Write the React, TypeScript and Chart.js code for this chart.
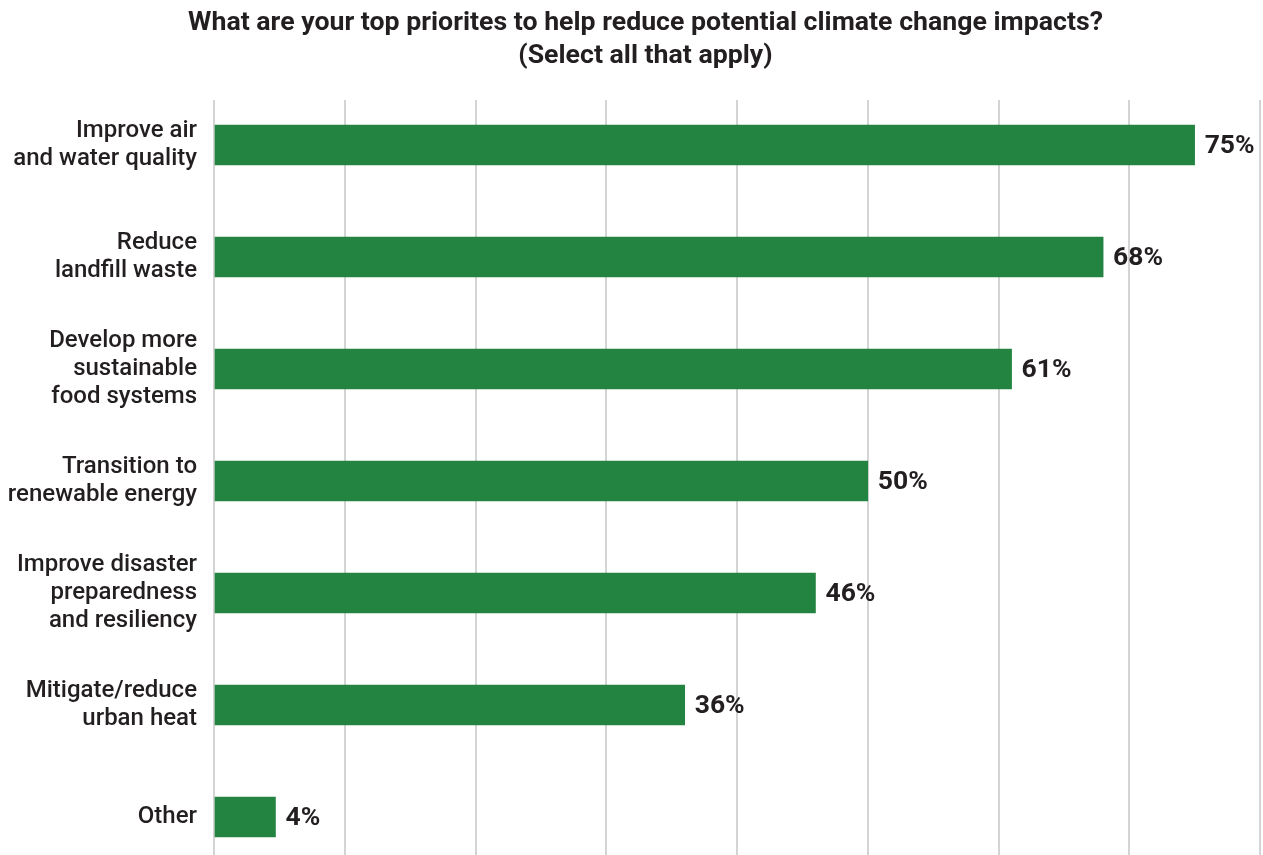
import React, { useEffect, useRef } from "react";
import { Chart, registerables } from "chart.js";

Chart.register(...registerables);

const categories: string[][] = [
  ["Improve air", "and water quality"],
  ["Reduce", "landfill waste"],
  ["Develop more", "sustainable", "food systems"],
  ["Transition to", "renewable energy"],
  ["Improve disaster", "preparedness", "and resiliency"],
  ["Mitigate/reduce", "urban heat"],
  ["Other"],
];
const values: number[] = [75, 68, 61, 50, 46, 36, 4.7];
const valueText: string[] = ["75%", "68%", "61%", "50%", "46%", "36%", "4%"];
const titleLines: string[] = [
  "What are your top priorites to help reduce potential climate change impacts?",
  "(Select all that apply)",
];

const FONT = "'Roboto', sans-serif";
const TEXT = "#231f20";
const GREEN = "#238340";

const titlePlugin = {
  id: "customTitle",
  afterDraw(chart: any) {
    const ctx = chart.ctx;
    ctx.save();
    ctx.font = `bold 26.7px ${FONT}`;
    ctx.fillStyle = TEXT;
    ctx.textAlign = "center";
    ctx.textBaseline = "middle";
    titleLines.forEach((line, i) => {
      ctx.fillText(line, 645.5, 23 + i * 33);
    });
    ctx.restore();
  },
};

const valueLabelPlugin = {
  id: "valueLabels",
  afterDatasetsDraw(chart: any) {
    const ctx = chart.ctx;
    const meta = chart.getDatasetMeta(0);
    ctx.save();
    ctx.font = `bold 26.5px ${FONT}`;
    ctx.fillStyle = TEXT;
    ctx.textAlign = "left";
    ctx.textBaseline = "middle";
    meta.data.forEach((bar: any, i: number) => {
      ctx.fillText(valueText[i], bar.x + 10, bar.y + 1);
    });
    ctx.restore();
  },
};

export default function App() {
  const ref = useRef<HTMLCanvasElement | null>(null);
  useEffect(() => {
    if (!ref.current) return;
    const chart = new Chart(ref.current, {
      type: "bar",
      data: {
        datasets: [
          {
            data: values.map((v, i) => ({ x: v, y: i })),
            backgroundColor: GREEN,
            barThickness: 40,
            borderWidth: 0,
          },
        ],
      },
      options: {
        indexAxis: "y",
        animation: false,
        responsive: true,
        maintainAspectRatio: false,
        layout: { padding: { left: 0, right: 3, top: 100, bottom: 0 } },
        plugins: {
          legend: { display: false },
          tooltip: { enabled: false },
          title: { display: false },
        },
        scales: {
          x: {
            type: "linear",
            min: 0,
            max: 80,
            ticks: { display: false, stepSize: 10 },
            grid: { color: "#d4d4d4", lineWidth: 2, drawTicks: false },
            border: { display: false },
            afterFit(scale: any) {
              scale.height = 0;
            },
          },
          y: {
            type: "linear",
            reverse: true,
            offset: false,
            min: -0.4018,
            max: 6.339,
            grid: { display: false, drawTicks: false },
            border: { display: false },
            afterBuildTicks(scale: any) {
              scale.ticks = categories.map((_, i) => ({ value: i }));
            },
            ticks: {
              autoSkip: false,
              padding: 17,
              color: TEXT,
              font: { family: FONT, size: 24, weight: "500", lineHeight: 28 / 24 },
              callback: (v: any) => categories[Math.round(Number(v))] ?? "",
            },
            afterFit(scale: any) {
              scale.width = 214;
              scale.paddingTop = 0;
              scale.paddingBottom = 0;
            },
          },
        },
      },
      plugins: [valueLabelPlugin, titlePlugin],
    } as any);
    return () => chart.destroy();
  }, []);
  return (
    <div style={{ position: "fixed", left: 0, top: 0, width: 1263, height: 855, background: "#fff" }}>
      <canvas ref={ref} />
    </div>
  );
}
